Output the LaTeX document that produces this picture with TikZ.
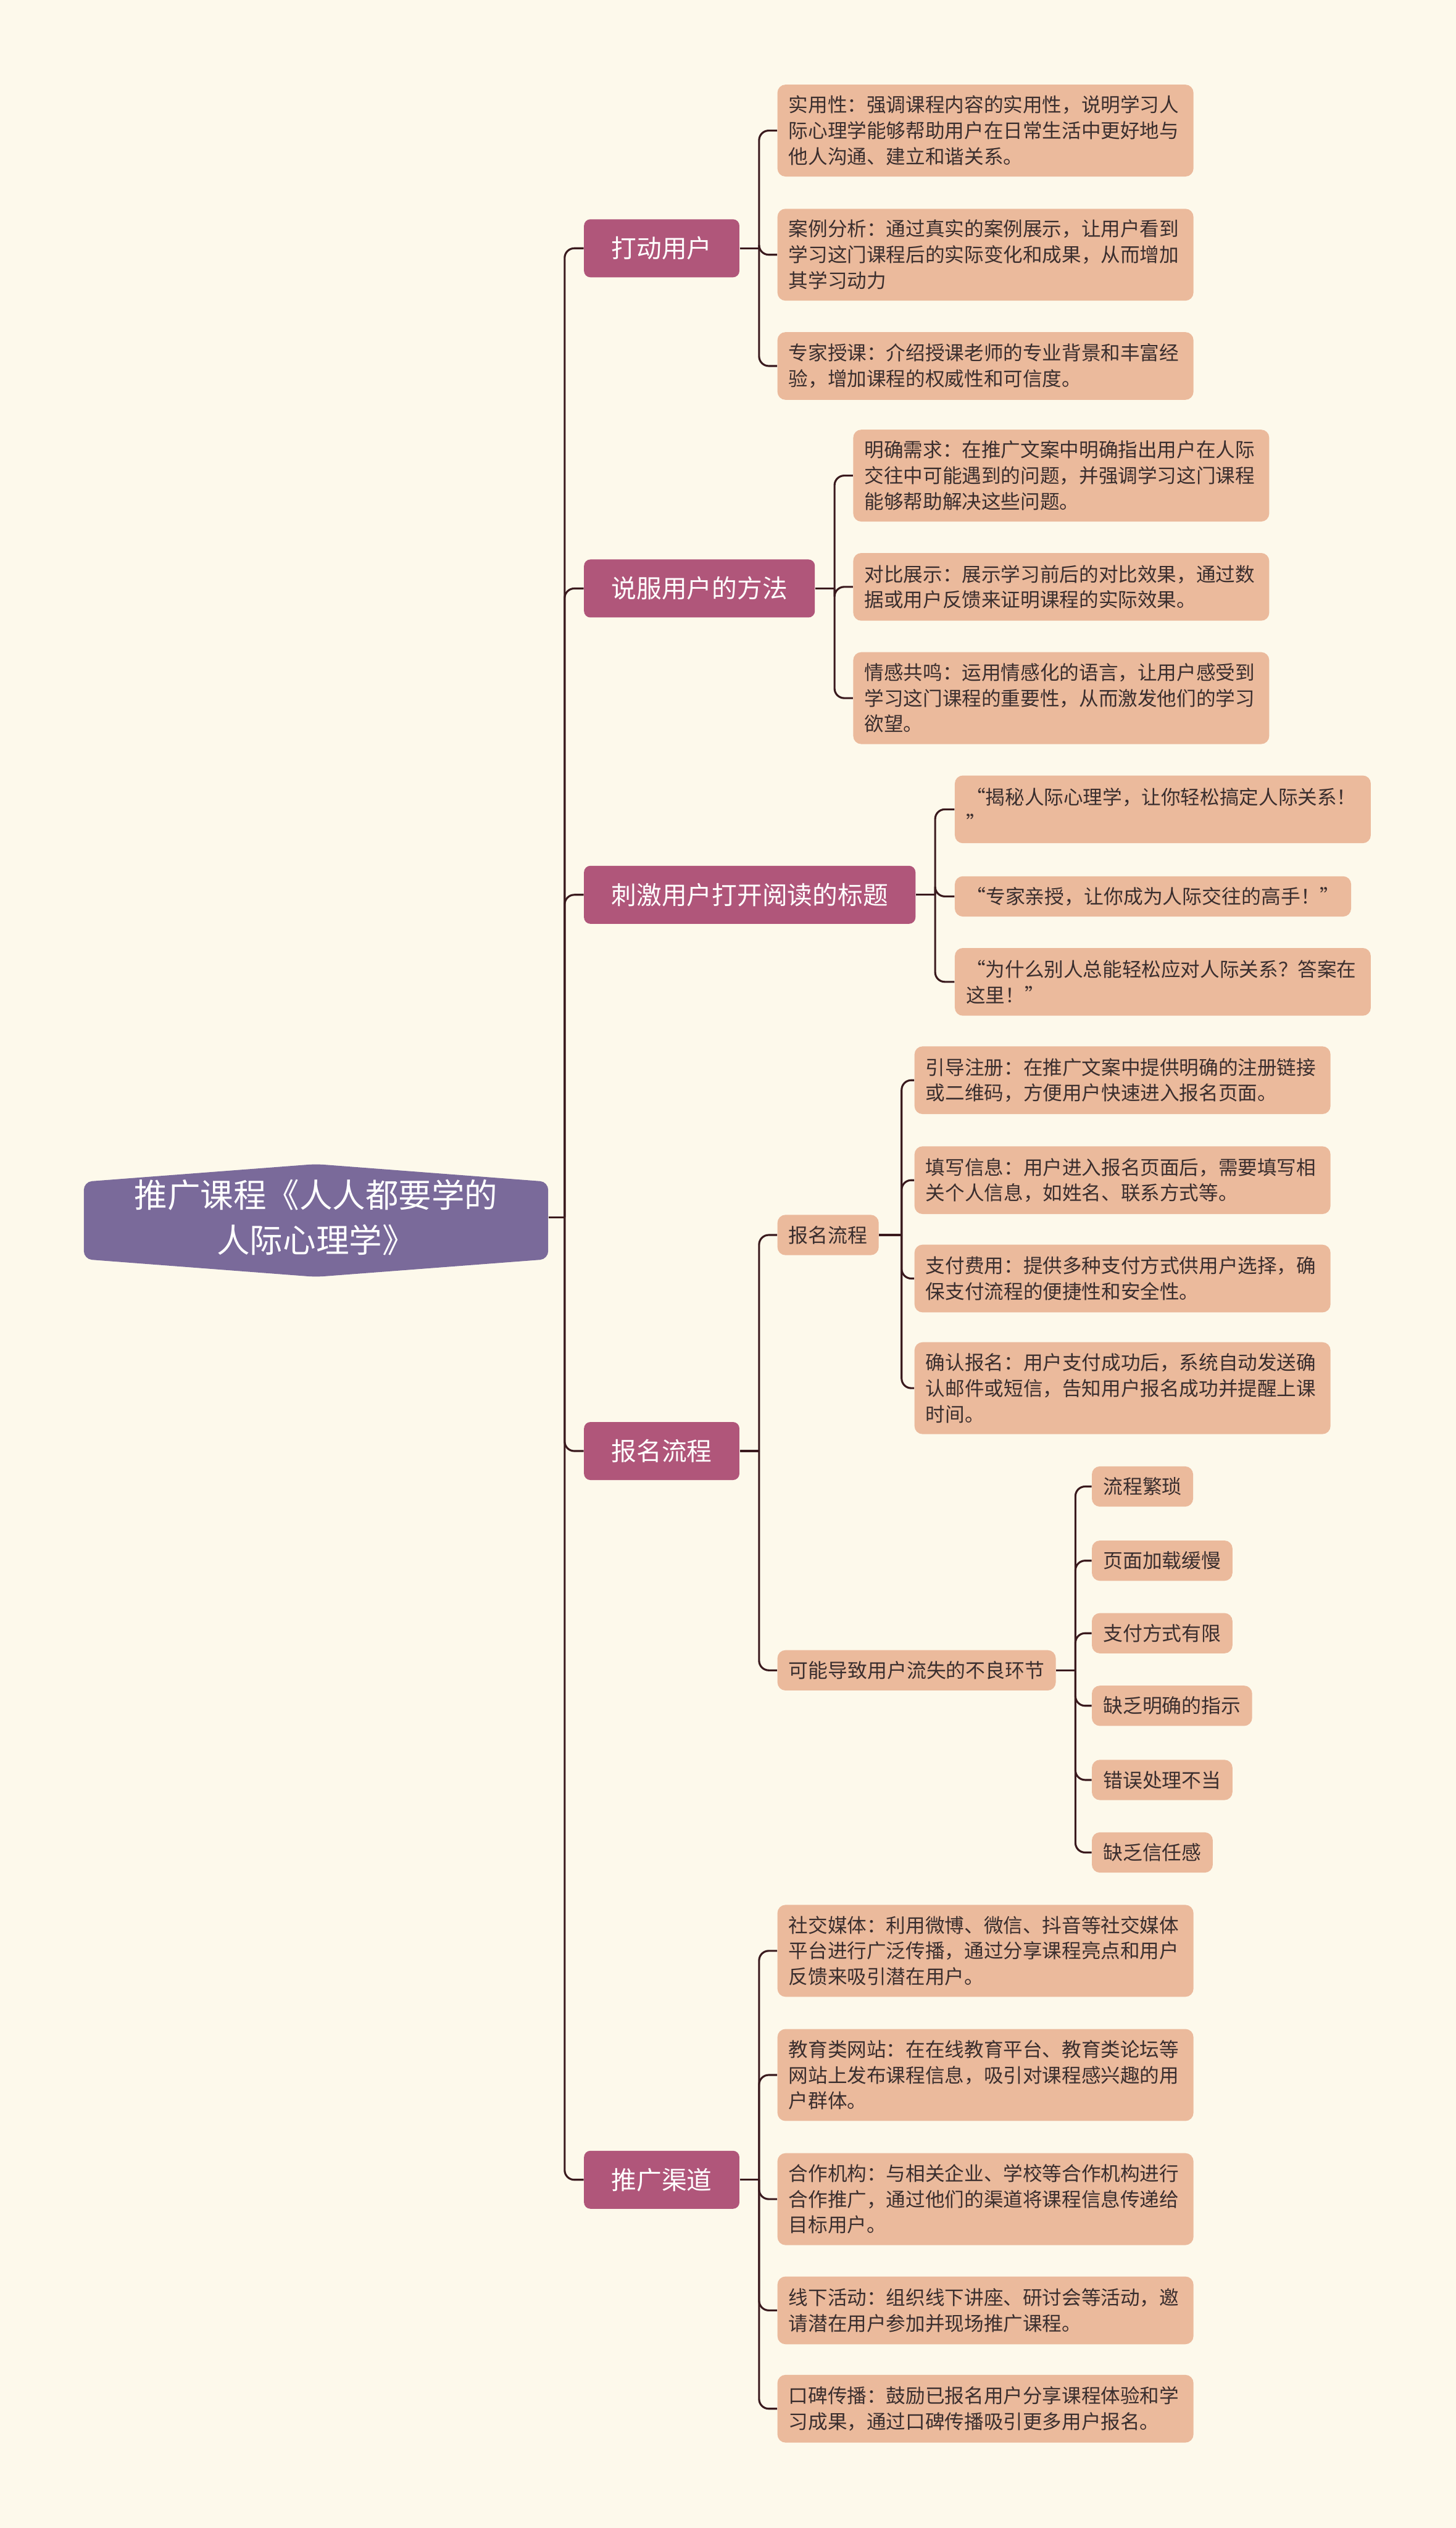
\documentclass[tikz,border=0pt]{standalone}
\usepackage{fontspec}
\setmainfont{Noto Sans CJK SC}
\definecolor{bg}{HTML}{FDF9EB}
\definecolor{rootc}{HTML}{7A6A9A}
\definecolor{lvone}{HTML}{B0567A}
\definecolor{leafc}{HTML}{EBBA9C}
\definecolor{linec}{HTML}{3A1A1E}
\definecolor{txt}{HTML}{3A2E2E}
\tikzset{
  lone/.style={fill=lvone, rounded corners=4pt, text=white, font=\fontsize{15.6}{18}\selectfont, inner xsep=17pt, inner ysep=0pt, minimum height=36pt, anchor=west},
  leafbox/.style={fill=leafc, rounded corners=5pt, text=txt, font=\fontsize{12.1}{16}\selectfont, text width=244pt, align=left, inner xsep=7pt, inner ysep=0pt, anchor=west},
  ltwo/.style={leafbox, minimum height=42pt},
  lthree/.style={leafbox, minimum height=57pt},
  small/.style={fill=leafc, rounded corners=5pt, text=txt, font=\fontsize{12.2}{16}\selectfont, inner xsep=7pt, inner ysep=0pt, minimum height=25pt, anchor=west},
  conn/.style={draw=linec, line width=1.2pt, rounded corners=6pt}
}
\newcommand\mybranch[3]{%
  \draw[conn] (#1.east) -- ++(#2,0);
  \foreach \c in {#3} \draw[conn] ([xshift=#2]#1.east) |- (\c.west);
}
\begin{document}
\begin{tikzpicture}[x=1pt,y=-1pt]
\useasboundingbox (0,0) rectangle (903,1568);
\fill[bg] (0,0) rectangle (903,1568);

% root
\fill[rootc, rounded corners=5pt] (52,733) -- (196,722) -- (340,733) -- (340,781) -- (196,792) -- (52,781) -- cycle;
\node[font=\fontsize{20.5}{28}\selectfont, text=white, align=center, minimum width=288pt, minimum height=48pt, inner sep=0pt] (root) at (196,755) {推广课程《人人都要学的\\人际心理学》};

% level 1
\node[lone] (a) at (362,154) {打动用户};
\node[lone] (b) at (362,365) {说服用户的方法};
\node[lone] (c) at (362,555) {刺激用户打开阅读的标题};
\node[lone] (d) at (362,900) {报名流程};
\node[lone] (e) at (362,1352) {推广渠道};

% a children
\node[lthree] (a1) at (482,81) {实用性：强调课程内容的实用性，说明学习人\\际心理学能够帮助用户在日常生活中更好地与\\他人沟通、建立和谐关系。};
\node[lthree] (a2) at (482,158) {案例分析：通过真实的案例展示，让用户看到\\学习这门课程后的实际变化和成果，从而增加\\其学习动力};
\node[ltwo] (a3) at (482,227) {专家授课：介绍授课老师的专业背景和丰富经\\验，增加课程的权威性和可信度。};

% b children
\node[lthree] (b1) at (529,295) {明确需求：在推广文案中明确指出用户在人际\\交往中可能遇到的问题，并强调学习这门课程\\能够帮助解决这些问题。};
\node[ltwo] (b2) at (529,364) {对比展示：展示学习前后的对比效果，通过数\\据或用户反馈来证明课程的实际效果。};
\node[lthree] (b3) at (529,433) {情感共鸣：运用情感化的语言，让用户感受到\\学习这门课程的重要性，从而激发他们的学习\\欲望。};

% c children
\node[ltwo] (c1) at (592,502) {“揭秘人际心理学，让你轻松搞定人际关系！\\”};
\node[small] (c2) at (592,556) {“专家亲授，让你成为人际交往的高手！”};
\node[ltwo] (c3) at (592,609) {“为什么别人总能轻松应对人际关系？答案在\\这里！”};

% d children
\node[small] (d1) at (482,766) {报名流程};
\node[small] (d2) at (482,1036) {可能导致用户流失的不良环节};

\node[ltwo] (d1a) at (567,670) {引导注册：在推广文案中提供明确的注册链接\\或二维码，方便用户快速进入报名页面。};
\node[ltwo] (d1b) at (567,732) {填写信息：用户进入报名页面后，需要填写相\\关个人信息，如姓名、联系方式等。};
\node[ltwo] (d1c) at (567,793) {支付费用：提供多种支付方式供用户选择，确\\保支付流程的便捷性和安全性。};
\node[lthree] (d1d) at (567,861) {确认报名：用户支付成功后，系统自动发送确\\认邮件或短信，告知用户报名成功并提醒上课\\时间。};

\node[small] (d2a) at (677,922) {流程繁琐};
\node[small] (d2b) at (677,968) {页面加载缓慢};
\node[small] (d2c) at (677,1013) {支付方式有限};
\node[small] (d2d) at (677,1058) {缺乏明确的指示};
\node[small] (d2e) at (677,1104) {错误处理不当};
\node[small] (d2f) at (677,1149) {缺乏信任感};

% e children
\node[lthree] (e1) at (482,1210) {社交媒体：利用微博、微信、抖音等社交媒体\\平台进行广泛传播，通过分享课程亮点和用户\\反馈来吸引潜在用户。};
\node[lthree] (e2) at (482,1287) {教育类网站：在在线教育平台、教育类论坛等\\网站上发布课程信息，吸引对课程感兴趣的用\\户群体。};
\node[lthree] (e3) at (482,1364) {合作机构：与相关企业、学校等合作机构进行\\合作推广，通过他们的渠道将课程信息传递给\\目标用户。};
\node[ltwo] (e4) at (482,1433) {线下活动：组织线下讲座、研讨会等活动，邀\\请潜在用户参加并现场推广课程。};
\node[ltwo] (e5) at (482,1494) {口碑传播：鼓励已报名用户分享课程体验和学\\习成果，通过口碑传播吸引更多用户报名。};

% connectors
\mybranch{root}{10}{a,b,c,d,e}
\mybranch{a}{12}{a1,a2,a3}
\mybranch{b}{12}{b1,b2,b3}
\mybranch{c}{12}{c1,c2,c3}
\mybranch{d}{12}{d1,d2}
\mybranch{d1}{14}{d1a,d1b,d1c,d1d}
\mybranch{d2}{12}{d2a,d2b,d2c,d2d,d2e,d2f}
\mybranch{e}{12}{e1,e2,e3,e4,e5}
\end{tikzpicture}
\end{document}
